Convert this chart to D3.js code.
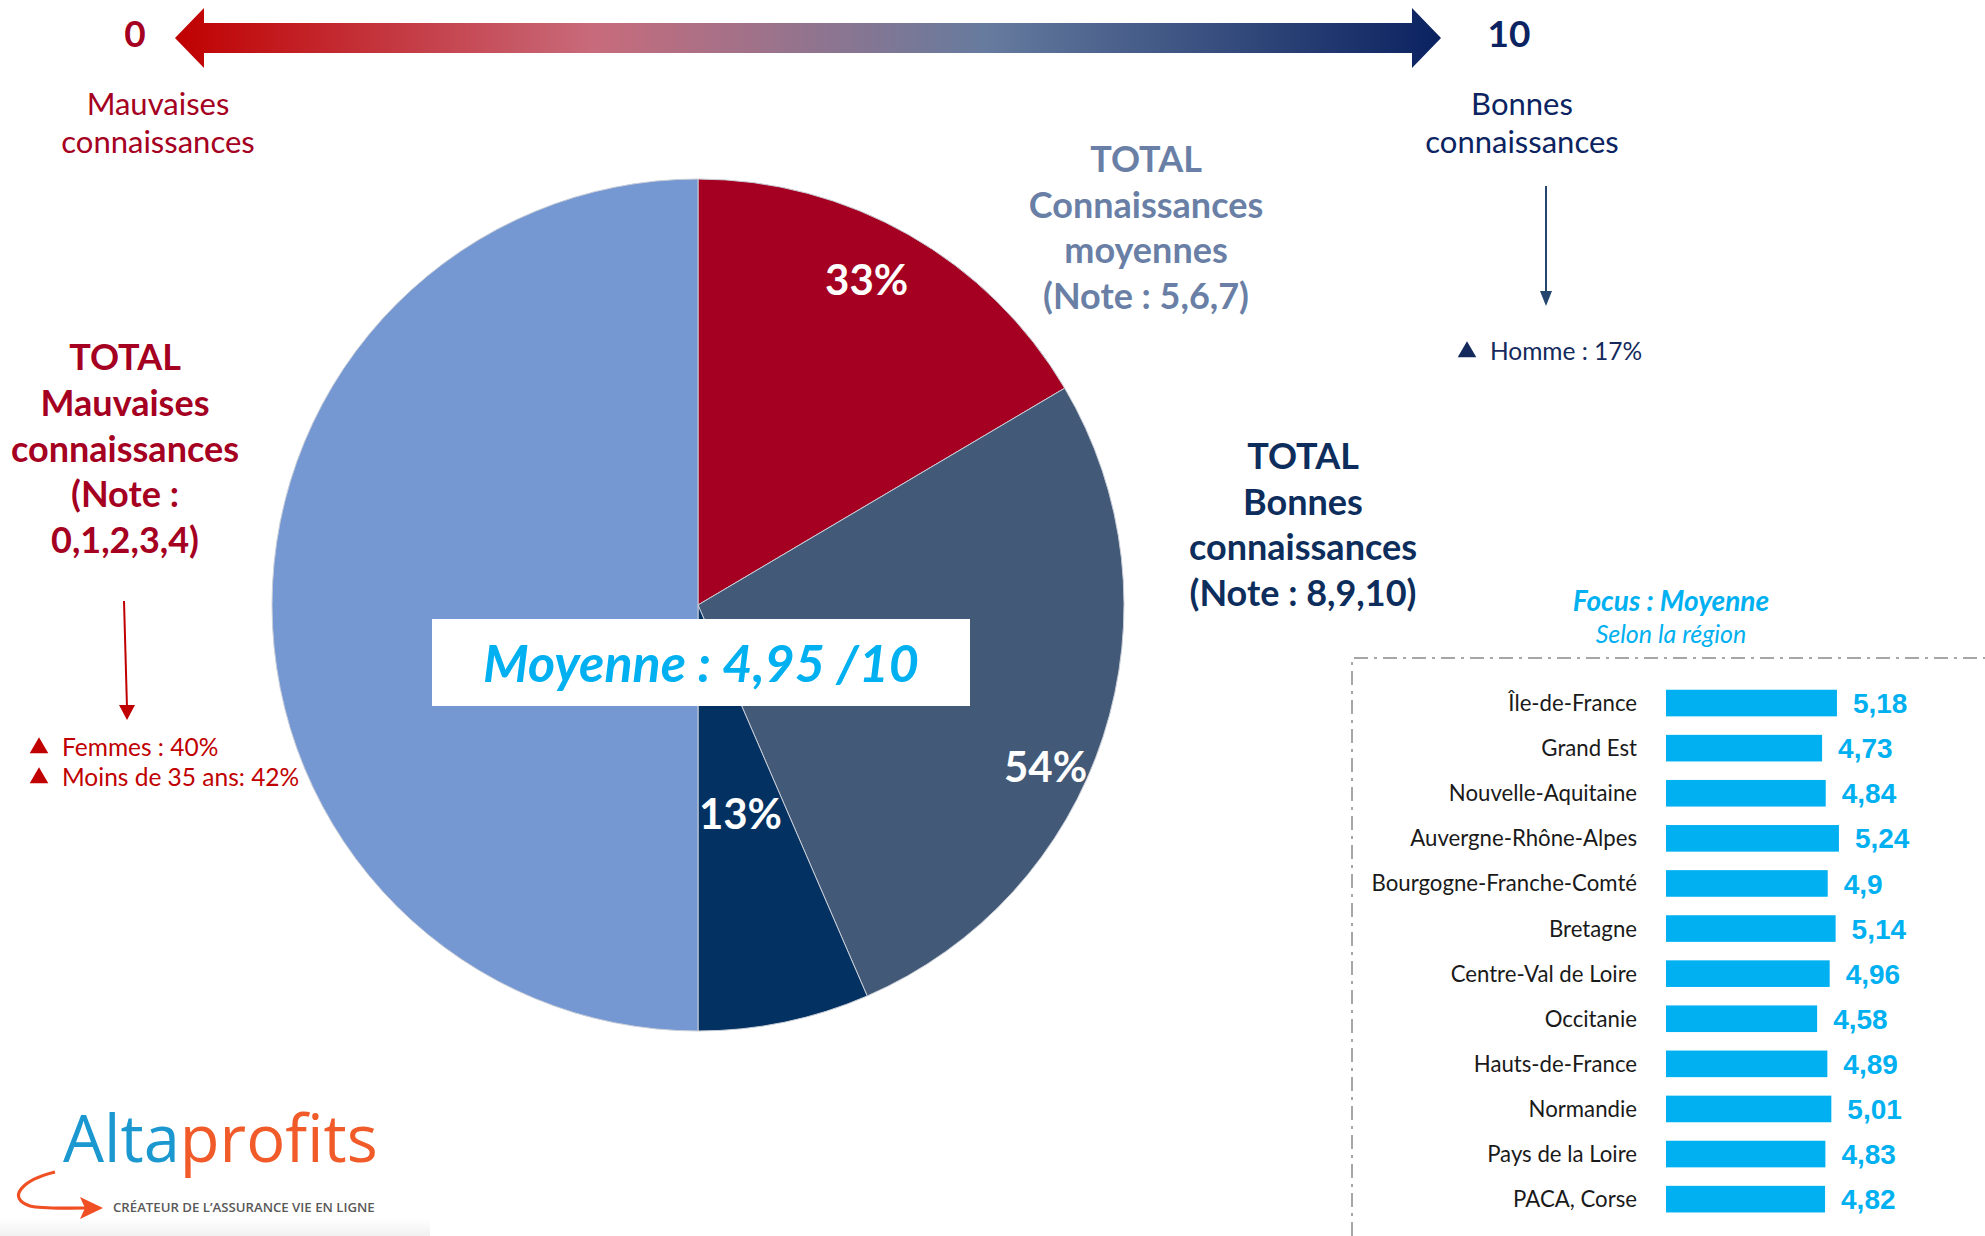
<!DOCTYPE html>
<html>
<head>
<meta charset="utf-8">
<script src="https://cdn.jsdelivr.net/npm/d3@7"></script>
<style>
  body { margin: 0; background: #fff; }
  svg { display: block; font-family: Lato, "Open Sans", sans-serif; }
</style>
</head>
<body>
<div id="chart"></div>
<script>
// Pie : répartition des notes (demi-camembert droit = 100 %)
const pieGroups = ["Mauvaises", "Moyennes", "Bonnes"];
const pieShares = [33, 54, 13];

// Focus : moyenne selon la région
const regions = ["Île-de-France", "Grand Est", "Nouvelle-Aquitaine", "Auvergne-Rhône-Alpes",
  "Bourgogne-Franche-Comté", "Bretagne", "Centre-Val de Loire", "Occitanie",
  "Hauts-de-France", "Normandie", "Pays de la Loire", "PACA, Corse"];
const regionMeans = [5.18, 4.73, 4.84, 5.24, 4.9, 5.14, 4.96, 4.58, 4.89, 5.01, 4.83, 4.82];

const overallMean = 4.95;
const noteDomain = [0, 10];

const width = 1985, height = 1236;
const svg = d3.select("#chart").append("svg")
  .attr("width", width).attr("height", height);

const defs = svg.append("defs");
const grad = defs.append("linearGradient").attr("id", "scaleGrad")
  .attr("x1", "0%").attr("x2", "100%").attr("y1", "0%").attr("y2", "0%");
[["0%", "#c00000"], ["33%", "#c86b7b"], ["64%", "#667b9e"], ["100%", "#0a2260"]]
  .forEach(([o, c]) => grad.append("stop").attr("offset", o).attr("stop-color", c));
const greyGrad = defs.append("linearGradient").attr("id", "greyGrad")
  .attr("x1", "0").attr("x2", "0").attr("y1", "0").attr("y2", "1");
greyGrad.append("stop").attr("offset", "0%").attr("stop-color", "#ffffff");
greyGrad.append("stop").attr("offset", "100%").attr("stop-color", "#f1f1f1");

// ---- échelle 0 -> 10 en haut
const note = d3.scaleLinear().domain(noteDomain).range([175, 1441]);
const head = 29, yMid = 38;
const arrowPts = [
  [note(0), yMid], [note(0) + head, yMid - 30], [note(0) + head, yMid - 15],
  [note(10) - head, yMid - 15], [note(10) - head, yMid - 30], [note(10), yMid],
  [note(10) - head, yMid + 30], [note(10) - head, yMid + 15],
  [note(0) + head, yMid + 15], [note(0) + head, yMid + 30]
];
svg.append("path").attr("d", d3.line()(arrowPts) + "Z").attr("fill", "url(#scaleGrad)");

svg.append("text").attr("x", note(0) - 40).attr("y", 47).attr("text-anchor", "middle")
  .attr("font-size", 37).attr("font-weight", 700).attr("fill", "#a50021").text(noteDomain[0]);
svg.append("text").attr("x", note(10) + 68).attr("y", 47).attr("text-anchor", "middle")
  .attr("font-size", 37).attr("font-weight", 700).attr("fill", "#0b2461").text(noteDomain[1]);

function lines(x, y0, step, arr, opts) {
  const t = svg.append("text").attr("text-anchor", "middle")
    .attr("font-size", opts.size).attr("font-weight", opts.weight || 400)
    .attr("fill", opts.color);
  arr.forEach((s, i) => t.append("tspan").attr("x", x).attr("y", y0 + i * step).text(s));
  return t;
}

lines(158, 115, 38, ["Mauvaises", "connaissances"], { size: 31, color: "#a50021" });
lines(1522, 115, 38, ["Bonnes", "connaissances"], { size: 31, color: "#0b2461" });

// ---- blocs TOTAL
lines(125, 370, 45.8, ["TOTAL", "Mauvaises", "connaissances", "(Note :", "0,1,2,3,4)"],
  { size: 36, weight: 700, color: "#a50021" });
lines(1146, 172, 45.5, ["TOTAL", "Connaissances", "moyennes", "(Note : 5,6,7)"],
  { size: 36, weight: 700, color: "#6a7fa6" });
lines(1303, 469, 45.7, ["TOTAL", "Bonnes", "connaissances", "(Note : 8,9,10)"],
  { size: 36, weight: 700, color: "#0d2d5c" });

// flèches verticales
function downArrow(x1, y1, x2, y2, color, hw) {
  svg.append("line").attr("x1", x1).attr("y1", y1).attr("x2", x2).attr("y2", y2 - 12)
    .attr("stroke", color).attr("stroke-width", 2);
  svg.append("path").attr("fill", color)
    .attr("d", d3.line()([[x2 - hw, y2 - 15], [x2 + hw, y2 - 15], [x2, y2]]) + "Z");
}
downArrow(124, 601, 127, 720, "#c00000", 8);
downArrow(1546, 186, 1546, 306, "#24466e", 6);

const tri = d3.symbol().type(d3.symbolTriangle).size(150);
function bullet(x, y, label, color) {
  svg.append("path").attr("d", tri).attr("transform", `translate(${x},${y - 8})`).attr("fill", color);
  svg.append("text").attr("x", x + 23).attr("y", y).attr("font-size", 24.5)
    .attr("fill", color).text(label);
}
bullet(39, 756, "Femmes : 40%", "#c00000");
bullet(39, 786, "Moins de 35 ans: 42%", "#c00000");
bullet(1467, 360, "Homme : 17%", "#142a5c");

// ---- camembert
const cx = 698, cy = 605, R = 426;
const pieColors = d3.scaleOrdinal().domain([...pieGroups, "reste"])
  .range(["#a50021", "#425a78", "#033262", "#7698d2"]);
const pieData = pieGroups.map((g, i) => ({ key: g, value: pieShares[i] }));
pieData.push({ key: "reste", value: d3.sum(pieShares) });

const arcs = d3.pie().sort(null).value(d => d.value)(pieData);
const arc = d3.arc().innerRadius(0).outerRadius(R);
const gPie = svg.append("g").attr("transform", `translate(${cx},${cy})`);
gPie.selectAll("path").data(arcs).join("path")
  .attr("d", arc).attr("fill", d => pieColors(d.data.key))
  .attr("stroke", "#c9ced8").attr("stroke-width", 1);

// placement manuel des étiquettes (rayon relatif, décalage d'angle en degrés)
const labelPlace = { Mauvaises: [0.86, -2.3], Moyennes: [0.9, 7], Bonnes: [0.5, 0.2] };
gPie.selectAll("text").data(arcs.filter(d => d.data.key !== "reste")).join("text")
  .attr("transform", d => {
    const [k, da] = labelPlace[d.data.key];
    const a = (d.startAngle + d.endAngle) / 2 + da * Math.PI / 180;
    return `translate(${Math.sin(a) * R * k},${-Math.cos(a) * R * k})`;
  })
  .attr("text-anchor", "middle").attr("dy", "0.36em")
  .attr("font-size", 42).attr("font-weight", 700).attr("fill", "#fff")
  .text(d => d.data.value + "%");

// encadré moyenne
svg.append("rect").attr("x", 432).attr("y", 619).attr("width", 538).attr("height", 87).attr("fill", "#fff");
svg.append("text").attr("x", 701).attr("y", 663).attr("dy", "0.36em").attr("text-anchor", "middle")
  .attr("font-size", 52).attr("font-weight", 700).attr("font-style", "italic").attr("fill", "#00b0f0")
  .text(`Moyenne : ${String(overallMean).replace(".", ",")} /10`);

// ---- focus régions
svg.append("text").attr("x", 1671).attr("y", 611).attr("text-anchor", "middle")
  .attr("font-size", 28).attr("font-weight", 700).attr("font-style", "italic").attr("fill", "#00b0f0")
  .text("Focus : Moyenne");
svg.append("text").attr("x", 1671).attr("y", 643).attr("text-anchor", "middle")
  .attr("font-size", 25).attr("font-style", "italic").attr("fill", "#00b0f0")
  .text("Selon la région");

svg.append("path").attr("d", "M1352,1236V658H1985").attr("fill", "none")
  .attr("stroke", "#a6a6a6").attr("stroke-width", 2).attr("stroke-dasharray", "14,6,3,6");

const x = d3.scaleLinear().domain(noteDomain).range([1666, 1996]);
const y = d3.scaleBand().domain(regions).range([680.5, 1221.7]).paddingInner(0.41).paddingOuter(0.205);
const rows = regions.map((r, i) => ({ region: r, mean: regionMeans[i] }));
const gBars = svg.append("g");
gBars.selectAll("rect").data(rows).join("rect")
  .attr("x", x(0)).attr("y", d => y(d.region))
  .attr("width", d => x(d.mean) - x(0)).attr("height", y.bandwidth())
  .attr("fill", "#00b0f0");
gBars.selectAll("text.lab").data(rows).join("text").attr("class", "lab")
  .attr("x", 1637).attr("y", d => y(d.region) + y.bandwidth() / 2).attr("dy", "0.36em")
  .attr("text-anchor", "end").attr("font-size", 22.2).attr("fill", "#1a1a1a")
  .text(d => d.region);
gBars.selectAll("text.val").data(rows).join("text").attr("class", "val")
  .attr("x", d => x(d.mean) + 16).attr("y", d => y(d.region) + y.bandwidth() / 2).attr("dy", "0.36em")
  .attr("font-family", "'Liberation Sans', Arial, sans-serif")
  .attr("font-size", 28).attr("font-weight", 700).attr("fill", "#00b0f0")
  .text(d => String(d.mean).replace(".", ","));

// ---- logo
svg.append("rect").attr("x", 0).attr("y", 1218).attr("width", 430).attr("height", 18).attr("fill", "url(#greyGrad)");
const logo = svg.append("text").attr("x", 63).attr("y", 1162)
  .attr("font-family", "'Open Sans', sans-serif").attr("font-size", 65);
logo.append("tspan").attr("fill", "#1b98d0").text("Alta");
logo.append("tspan").attr("fill", "#f15a29").text("profits");
svg.append("text").attr("x", 113).attr("y", 1212)
  .attr("font-family", "'Open Sans', sans-serif").attr("font-size", 13.2).attr("font-weight", 600)
  .attr("fill", "#595959").text("CRÉATEUR DE L’ASSURANCE VIE EN LIGNE");
svg.append("path").attr("d", "M55,1172C22,1180 6,1198 30,1206C42,1209 60,1208 86,1208")
  .attr("fill", "none").attr("stroke", "#f04e23").attr("stroke-width", 3.2);
svg.append("path").attr("d", "M80,1197L103,1208L80,1219L85,1208Z").attr("fill", "#f04e23");
</script>
</body>
</html>
